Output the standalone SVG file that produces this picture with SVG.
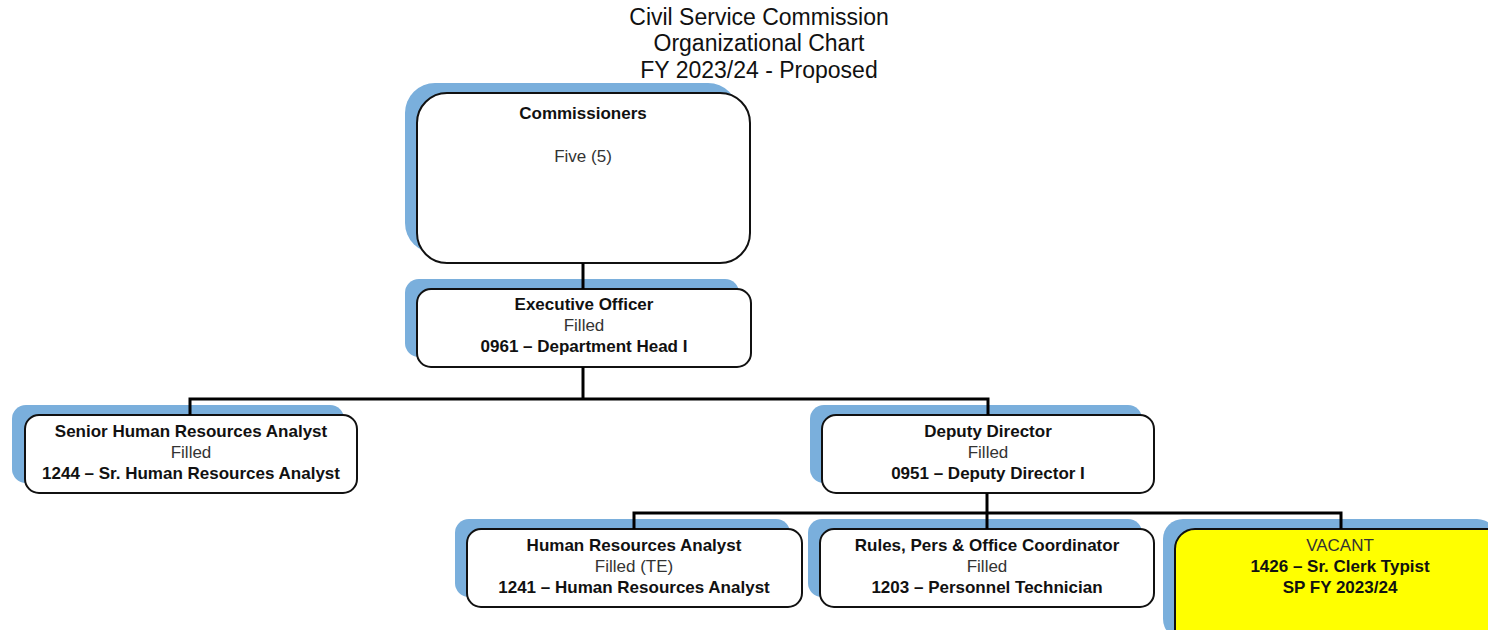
<svg xmlns="http://www.w3.org/2000/svg" width="1488" height="630" viewBox="0 0 1488 630">
<style>
.sh{fill:#7aafdc}
.bx{fill:#fff;stroke:#111;stroke-width:2}
.vac{fill:#ffff00;stroke:#111;stroke-width:2}
.t{font-family:"Liberation Sans",Arial,sans-serif;font-size:17px;text-anchor:middle}
.b{font-weight:bold;fill:#111}
.r{fill:#333}
.title{font-family:"Liberation Sans",Arial,sans-serif;font-size:23px;text-anchor:middle;fill:#111}
.ln{fill:none;stroke:#000;stroke-width:3}
</style>
<rect width="1488" height="630" fill="#fff"/>
<g id="title">
<text class="title" x="759" y="25">Civil Service Commission</text>
<text class="title" x="759" y="51">Organizational Chart</text>
<text class="title" x="759" y="78">FY 2023/24 - Proposed</text>
</g>
<g id="n-commissioners">
<rect class="sh" x="405" y="83" width="333" height="170" rx="30"/>
<rect class="bx" x="417" y="93" width="333" height="170" rx="30"/>
<text class="t b" x="583" y="119">Commissioners</text>
<text class="t r" x="583" y="162">Five (5)</text>
</g>
<g id="n-exec">
<rect class="sh" x="405" y="279" width="334" height="78" rx="14"/>
<rect class="bx" x="417" y="289" width="334" height="78" rx="14"/>
<text class="t b" x="584" y="310">Executive Officer</text>
<text class="t r" x="584" y="331">Filled</text>
<text class="t b" x="584" y="352">0961 – Department Head I</text>
</g>
<g id="n-senior">
<rect class="sh" x="12" y="405" width="332" height="78" rx="14"/>
<rect class="bx" x="25" y="415" width="332" height="78" rx="14"/>
<text class="t b" x="191" y="437">Senior Human Resources Analyst</text>
<text class="t r" x="191" y="458">Filled</text>
<text class="t b" x="191" y="479">1244 – Sr. Human Resources Analyst</text>
</g>
<g id="n-deputy">
<rect class="sh" x="810" y="405" width="332" height="78" rx="14"/>
<rect class="bx" x="822" y="415" width="332" height="78" rx="14"/>
<text class="t b" x="988" y="437">Deputy Director</text>
<text class="t r" x="988" y="458">Filled</text>
<text class="t b" x="988" y="479">0951 – Deputy Director I</text>
</g>
<g id="n-hra">
<rect class="sh" x="455" y="519" width="335" height="78" rx="14"/>
<rect class="bx" x="467" y="529" width="335" height="78" rx="14"/>
<text class="t b" x="634" y="551">Human Resources Analyst</text>
<text class="t r" x="634" y="572">Filled (TE)</text>
<text class="t b" x="634" y="593">1241 – Human Resources Analyst</text>
</g>
<g id="n-rules">
<rect class="sh" x="808" y="519" width="334" height="78" rx="14"/>
<rect class="bx" x="820" y="529" width="334" height="78" rx="14"/>
<text class="t b" x="987" y="551">Rules, Pers &amp; Office Coordinator</text>
<text class="t r" x="987" y="572">Filled</text>
<text class="t b" x="987" y="593">1203 – Personnel Technician</text>
</g>
<g id="n-vacant">
<rect class="sh" x="1163" y="519" width="334" height="120" rx="20"/>
<rect class="vac" x="1175" y="529" width="334" height="120" rx="20"/>
<text class="t r" x="1340" y="551">VACANT</text>
<text class="t b" x="1340" y="572">1426 – Sr. Clerk Typist</text>
<text class="t b" x="1340" y="593">SP FY 2023/24</text>
</g>
<g id="connectors">
<path class="ln" d="M583,263V289"/>
<path class="ln" d="M583,367V399"/>
<path class="ln" d="M190,415V399H988V415"/>
<path class="ln" d="M987,493V513"/>
<path class="ln" d="M634,529V513H1341V529"/>
<path class="ln" d="M987,513V529"/>
</g>
</svg>
